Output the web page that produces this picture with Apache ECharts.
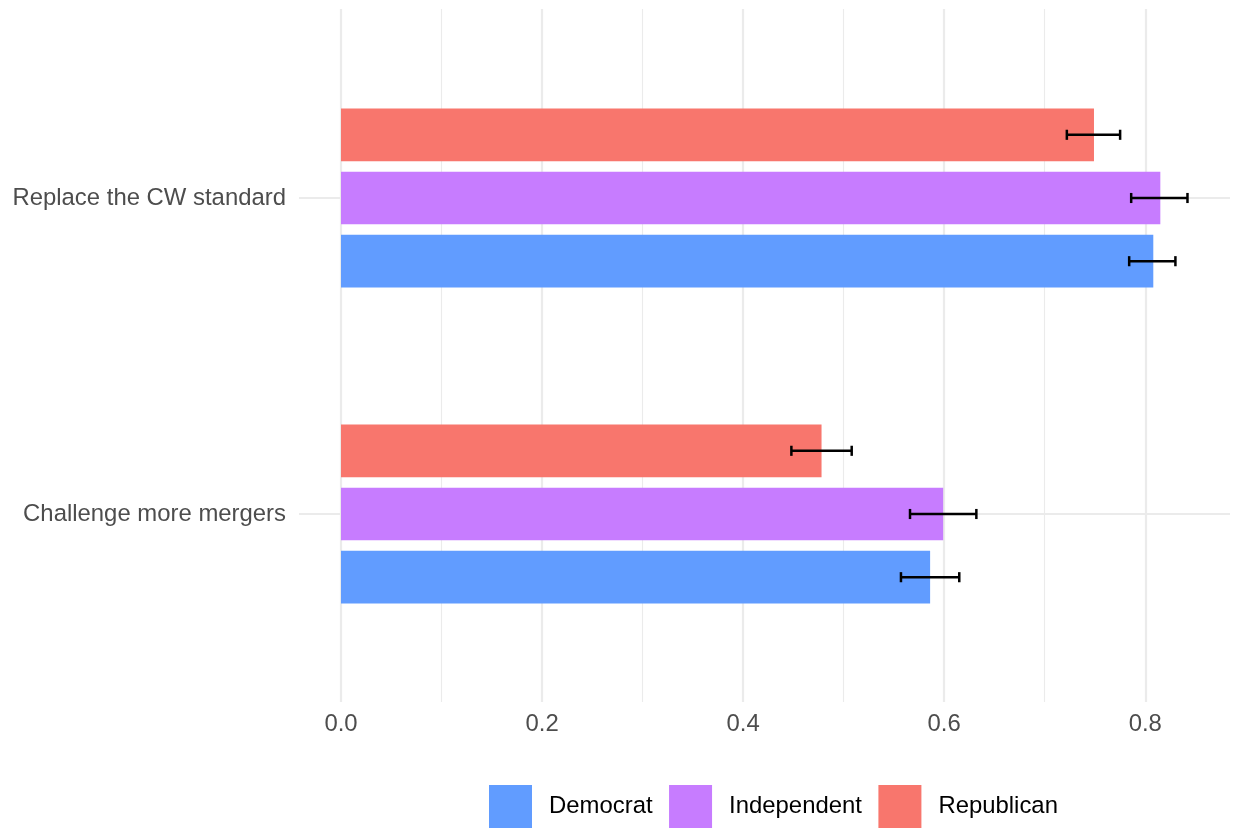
<!DOCTYPE html>
<html>
<head>
<meta charset="utf-8">
<script src="https://cdn.jsdelivr.net/npm/echarts@6/dist/echarts.min.js"></script>
<style>
  html, body { margin: 0; padding: 0; background: #ffffff; }
  #chart { width: 1235px; height: 829px; }
</style>
</head>
<body>
<div id="chart"></div>
<script>
// Survey items (top to bottom)
const categories = ['Replace the CW standard', 'Challenge more mergers'];

// Share in favour, by party, with interval bounds
const republican      = [0.749, 0.478];
const republicanLow   = [0.722, 0.448];
const republicanHigh  = [0.775, 0.508];

const independent     = [0.815, 0.599];
const independentLow  = [0.786, 0.566];
const independentHigh = [0.842, 0.632];

const democrat        = [0.808, 0.586];
const democratLow     = [0.784, 0.557];
const democratHigh    = [0.830, 0.615];

// Legend order and x-axis ticks
const legendOrder = ['Democrat', 'Independent', 'Republican'];
const xTicks = [0.0, 0.2, 0.4, 0.6, 0.8];

const COLORS = { Democrat: '#619CFF', Independent: '#C77CFF', Republican: '#F8766D' };
const FONT = '"Liberation Sans", Arial, Helvetica, sans-serif';
const FONT_SIZE = 23.9;
const GRID_COLOR = '#ebebeb';

// Dodge layout in band units: bars 1/6 wide, centres 0.2 apart
const DODGE_STEP = 0.2;
const CAP_FRACTION = 0.032;

const X_MAX = 0.8843;   // data range plus 5% padding

const chart = echarts.init(document.getElementById('chart'), null, { renderer: 'canvas' });

function errorBars(dodge) {
  return function (params, api) {
    const cat = api.value(0);
    const lo = api.coord([api.value(1), cat]);
    const hi = api.coord([api.value(2), cat]);
    const band = api.size([0, 1])[1];
    const y = lo[1] + dodge * DODGE_STEP * band;
    const cap = CAP_FRACTION * band / 2;
    const style = { stroke: '#000000', lineWidth: 2.5, fill: null };
    return {
      type: 'group',
      children: [
        { type: 'line', shape: { x1: lo[0], y1: y, x2: hi[0], y2: y }, style: style },
        { type: 'line', shape: { x1: lo[0], y1: y - cap, x2: lo[0], y2: y + cap }, style: style },
        { type: 'line', shape: { x1: hi[0], y1: y - cap, x2: hi[0], y2: y + cap }, style: style }
      ]
    };
  };
}

function intervalData(low, high) {
  return categories.map((c, i) => [i, low[i], high[i]]);
}

function barSeries(name, values) {
  return {
    name: name,
    type: 'bar',
    xAxisIndex: 1,
    yAxisIndex: 1,
    data: values,
    barWidth: '16.667%',
    barGap: '20%',
    itemStyle: { color: COLORS[name] },
    z: 2
  };
}

function errorSeries(name, low, high, dodge) {
  return {
    name: name + ' interval',
    type: 'custom',
    xAxisIndex: 1,
    yAxisIndex: 1,
    data: intervalData(low, high),
    encode: { x: [1, 2], y: 0 },
    renderItem: errorBars(dodge),
    z: 3,
    silent: true
  };
}

const option = {
  animation: false,
  backgroundColor: '#ffffff',
  textStyle: { fontFamily: FONT },
  grid: [
    // panel background: vertical grid lines and value labels
    { left: 341, right: 5, top: 9, bottom: 127 },
    // bars
    { left: 341, right: 5, top: 40, height: 632 }
  ],
  legend: {
    data: legendOrder,
    left: 489,
    top: 785,
    padding: 0,
    orient: 'horizontal',
    icon: 'rect',
    itemWidth: 43,
    itemHeight: 43,
    itemGap: 16.5,
    selectedMode: false,
    textStyle: {
      fontFamily: FONT,
      fontSize: FONT_SIZE,
      color: '#000000',
      padding: [0, 0, 0, 12]
    }
  },
  xAxis: [
    {
      type: 'value',
      gridIndex: 0,
      min: 0,
      max: X_MAX,
      interval: 0.2,
      axisLine: { show: false },
      axisTick: { show: false },
      minorTick: { show: false, splitNumber: 2 },
      splitLine: { show: true, showMaxLine: false, lineStyle: { color: GRID_COLOR, width: 2.2 } },
      minorSplitLine: { show: true, lineStyle: { color: GRID_COLOR, width: 1.1 } },
      axisLabel: {
        show: true,
        showMaxLabel: false,
        margin: 10,
        color: '#4d4d4d',
        fontFamily: FONT,
        fontSize: FONT_SIZE,
        formatter: function (v) {
          return xTicks.some(t => Math.abs(t - v) < 1e-9) ? v.toFixed(1) : '';
        }
      }
    },
    {
      type: 'value',
      gridIndex: 1,
      min: 0,
      max: X_MAX,
      show: false
    }
  ],
  yAxis: [
    { type: 'value', gridIndex: 0, show: false, min: 0, max: 1 },
    {
      type: 'category',
      gridIndex: 1,
      data: categories,
      inverse: true,
      axisLine: { show: false },
      axisTick: { show: true, alignWithLabel: true, length: 42, lineStyle: { color: GRID_COLOR, width: 2.2 } },
      splitLine: { show: false },
      axisLabel: {
        margin: 55,
        color: '#4d4d4d',
        fontFamily: FONT,
        fontSize: FONT_SIZE,
        padding: [5, 0, 0, 0]
      }
    },
    {
      // horizontal grid lines across the panel at each item
      type: 'category',
      gridIndex: 1,
      data: categories,
      inverse: true,
      position: 'left',
      axisLine: { show: false },
      axisLabel: { show: false },
      splitLine: { show: false },
      axisTick: { show: true, inside: true, alignWithLabel: true, length: 889, lineStyle: { color: GRID_COLOR, width: 2.2 } }
    }
  ],
  series: [
    barSeries('Republican', republican),
    barSeries('Independent', independent),
    barSeries('Democrat', democrat),
    errorSeries('Republican', republicanLow, republicanHigh, -1),
    errorSeries('Independent', independentLow, independentHigh, 0),
    errorSeries('Democrat', democratLow, democratHigh, 1)
  ]
};

chart.setOption(option);
</script>
</body>
</html>
